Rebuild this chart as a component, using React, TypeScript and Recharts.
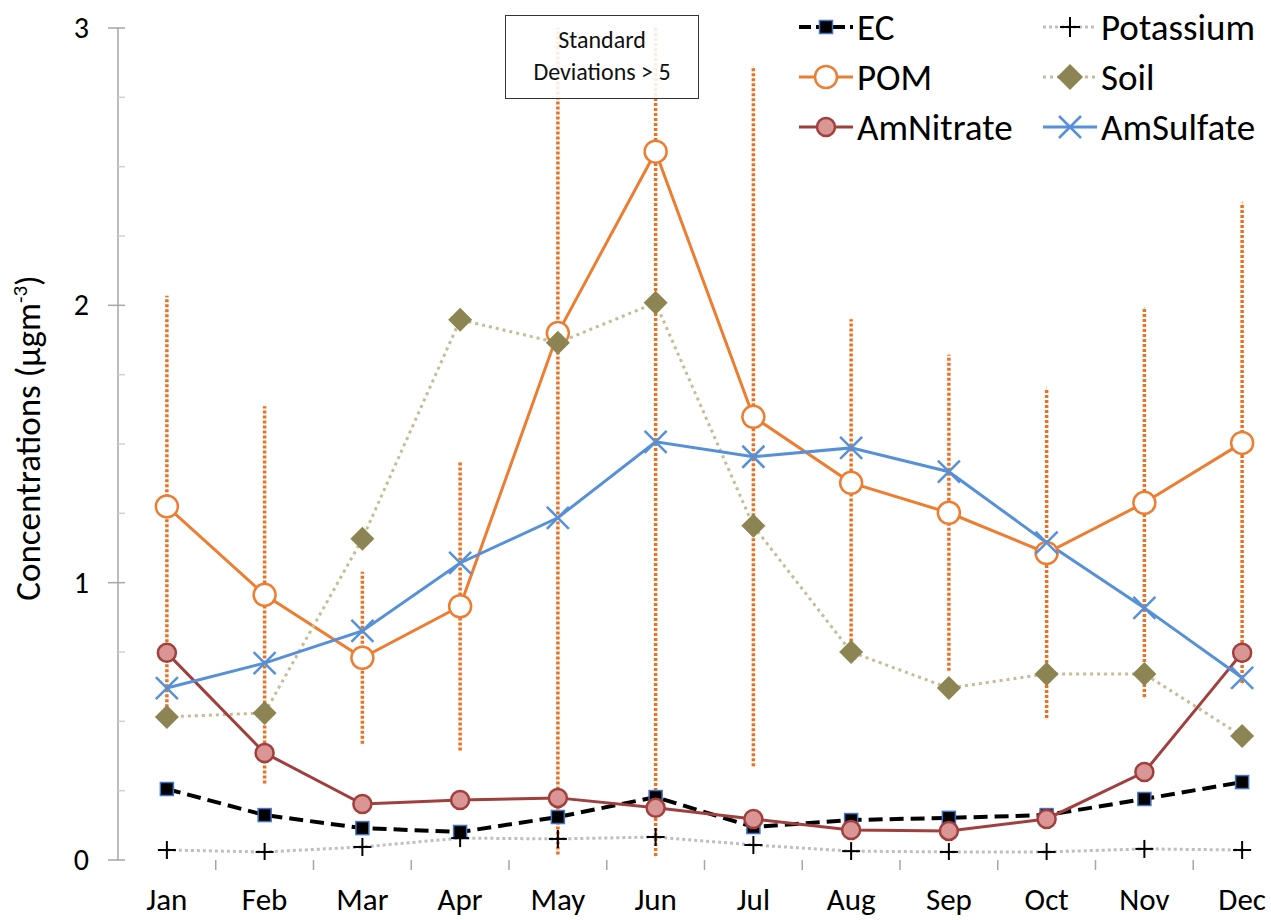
import React from 'react';
import { ComposedChart, Line, XAxis, YAxis, ErrorBar, Legend } from 'recharts';

const months = ['Jan', 'Feb', 'Mar', 'Apr', 'May', 'Jun', 'Jul', 'Aug', 'Sep', 'Oct', 'Nov', 'Dec'];
const ecValues = [0.256, 0.162, 0.115, 0.101, 0.155, 0.227, 0.119, 0.144, 0.152, 0.162, 0.22, 0.281];
const potassiumValues = [0.036, 0.029, 0.047, 0.079, 0.076, 0.083, 0.054, 0.032, 0.029, 0.029, 0.04, 0.036];
const pomValues = [1.275, 0.956, 0.729, 0.915, 1.9, 2.554, 1.598, 1.36, 1.252, 1.107, 1.288, 1.504];
const soilValues = [0.516, 0.53, 1.158, 1.948, 1.865, 2.009, 1.205, 0.75, 0.62, 0.671, 0.671, 0.447];
const amNitrateValues = [0.747, 0.386, 0.202, 0.216, 0.224, 0.188, 0.148, 0.108, 0.105, 0.148, 0.317, 0.747];
const amSulfateValues = [0.62, 0.71, 0.826, 1.071, 1.234, 1.508, 1.454, 1.486, 1.4, 1.144, 0.909, 0.657];
// POM standard deviations; May and Jun exceed 5 and are shown only within the axis range: [below, above]
const pomSdValues: (number | [number, number])[] = [0.76, 0.68, 0.31, 0.52, [1.88, 1.1], [2.54, 0.446], 1.26, 0.59, 0.57, 0.595, 0.7, 0.866];
const yTicks = [0, 0.25, 0.5, 0.75, 1, 1.25, 1.5, 1.75, 2, 2.25, 2.5, 2.75, 3];

const data = months.map((m, i) => ({
  month: m,
  EC: ecValues[i],
  Potassium: potassiumValues[i],
  POM: pomValues[i],
  Soil: soilValues[i],
  AmNitrate: amNitrateValues[i],
  AmSulfate: amSulfateValues[i],
  pomSd: pomSdValues[i],
}));

const FONT = 'Carlito, Lato, "Open Sans", sans-serif';
const CHART_W = 1300;
const CHART_H = 920;
const Y_W = 118;
const M_RIGHT = 9;
const PLOT_W = CHART_W - Y_W - M_RIGHT;
const BW = PLOT_W / months.length;

const C_EC = '#000000';
const C_EC_BORDER = '#4472C4';
const C_POT_LINE = '#BFBFBF';
const C_POM = '#ED7D31';
const C_ERR = '#EC7020';
const C_SOIL = '#8C8452';
const C_SOIL_LINE = '#C4BD97';
const C_NIT = '#A0403E';
const C_NIT_FILL = '#DA9694';
const C_SUL = '#5590D8';
const C_AXIS = '#A6A6A6';

const SquareMark = ({ cx, cy, s = 13 }: any) => (
  <rect x={cx - s / 2} y={cy - s / 2} width={s} height={s} fill="#000" stroke={C_EC_BORDER} strokeWidth={1.5} />
);
const PlusMark = ({ cx, cy, s = 18 }: any) => (
  <g stroke="#000" strokeWidth={2}>
    <line x1={cx - s / 2} x2={cx + s / 2} y1={cy} y2={cy} />
    <line x1={cx} x2={cx} y1={cy - s / 2} y2={cy + s / 2} />
  </g>
);
const PomMark = ({ cx, cy, r = 11 }: any) => (
  <circle cx={cx} cy={cy} r={r} fill="#fff" stroke={C_POM} strokeWidth={2.5} />
);
const DiamondMark = ({ cx, cy, s = 12 }: any) => (
  <polygon points={`${cx},${cy - s} ${cx + s},${cy} ${cx},${cy + s} ${cx - s},${cy}`} fill={C_SOIL} />
);
const NitMark = ({ cx, cy, r = 9 }: any) => (
  <circle cx={cx} cy={cy} r={r} fill={C_NIT_FILL} stroke={C_NIT} strokeWidth={2.5} />
);
const XMark = ({ cx, cy, s = 11 }: any) => (
  <g stroke={C_SUL} strokeWidth={2.5}>
    <line x1={cx - s} x2={cx + s} y1={cy - s} y2={cy + s} />
    <line x1={cx - s} x2={cx + s} y1={cy + s} y2={cy - s} />
  </g>
);

const dotFn = (Comp: any) => (props: any) => {
  const { cx, cy, index } = props;
  if (cx == null || cy == null) return <g key={index} />;
  return <g key={`d-${index}`}><Comp cx={cx} cy={cy} /></g>;
};

const XTick = (props: any) => {
  const { x, y, payload, index } = props;
  const bx = x - BW / 2;
  return (
    <g>
      {index > 0 && <line x1={bx} x2={bx} y1={y} y2={y + 10} stroke={C_AXIS} strokeWidth={1.5} />}
      <text x={x} y={y + 50} textAnchor="middle" fontFamily={FONT} fontSize={31} fill="#000">
        {payload.value}
      </text>
    </g>
  );
};

const Y_TM = 29;
const YTick = (props: any) => {
  const { x, y, payload } = props;
  const v = payload.value;
  const ax = x + Y_TM;
  const major = Number.isInteger(v);
  return (
    <g>
      <line x1={major ? ax - 10 : ax} x2={ax + 7} y1={y} y2={y} stroke={major ? C_AXIS : '#D0D0D0'} strokeWidth={1.5} />
      {major && (
        <text x={x} y={y + 10} textAnchor="end" fontFamily={FONT} fontSize={30} fill="#000">
          {v}
        </text>
      )}
    </g>
  );
};

const YLabel = () => (
  <text
    x={40}
    y={438}
    transform="rotate(-90, 40, 438)"
    textAnchor="middle"
    fontFamily={FONT}
    fontSize={35}
    fill="#000"
  >
    <tspan>Concentrations  (µgm</tspan>
    <tspan dy={-13} fontSize={21}>-3</tspan>
    <tspan dy={13}>)</tspan>
  </text>
);

const legendItems = [
  { name: 'EC', col: 0, row: 0 },
  { name: 'Potassium', col: 1, row: 0 },
  { name: 'POM', col: 0, row: 1 },
  { name: 'Soil', col: 1, row: 1 },
  { name: 'AmNitrate', col: 0, row: 2 },
  { name: 'AmSulfate', col: 1, row: 2 },
];

const LEG_LEFT = 790;
const LegendIcon = ({ name, x0, cy }: any) => {
  const x1 = x0 + 54;
  const mx = (x0 + x1) / 2;
  switch (name) {
    case 'EC':
      return (
        <g>
          <line x1={x0} x2={x1} y1={cy} y2={cy} stroke={C_EC} strokeWidth={4} strokeDasharray="12 5" />
          <SquareMark cx={mx} cy={cy} />
        </g>
      );
    case 'Potassium':
      return (
        <g>
          <line x1={x0} x2={x1} y1={cy} y2={cy} stroke={C_POT_LINE} strokeWidth={3} strokeDasharray="3 3" />
          <PlusMark cx={mx} cy={cy} s={20} />
        </g>
      );
    case 'POM':
      return (
        <g>
          <line x1={x0} x2={x1} y1={cy} y2={cy} stroke={C_POM} strokeWidth={3} />
          <PomMark cx={mx} cy={cy} />
        </g>
      );
    case 'Soil':
      return (
        <g>
          <line x1={x0} x2={x1} y1={cy} y2={cy} stroke={C_SOIL_LINE} strokeWidth={3} strokeDasharray="3 4" />
          <DiamondMark cx={mx} cy={cy} s={13} />
        </g>
      );
    case 'AmNitrate':
      return (
        <g>
          <line x1={x0} x2={x1} y1={cy} y2={cy} stroke={C_NIT} strokeWidth={3} />
          <NitMark cx={mx} cy={cy} />
        </g>
      );
    default:
      return (
        <g>
          <line x1={x0} x2={x1} y1={cy} y2={cy} stroke={C_SUL} strokeWidth={3} />
          <XMark cx={mx} cy={cy} s={11} />
        </g>
      );
  }
};

const renderLegend = () => (
  <svg width={480} height={160} style={{ display: 'block', overflow: 'visible' }}>
    {legendItems.map((it) => {
      const x0 = (it.col === 0 ? 799 : 1043) - LEG_LEFT;
      const cy = 27 + it.row * 50;
      return (
        <g key={it.name}>
          <LegendIcon name={it.name} x0={x0} cy={cy} />
          <text x={x0 + 58} y={cy + 13} fontFamily={FONT} fontSize={37} fill="#000">
            {it.name}
          </text>
        </g>
      );
    })}
  </svg>
);

export default function App() {
  return (
    <div style={{ position: 'absolute', left: 0, top: 0, width: 1271, height: 920, overflow: 'hidden', background: '#fff' }}>
      <ComposedChart
        width={CHART_W}
        height={CHART_H}
        data={data}
        margin={{ top: 28, right: M_RIGHT, left: 0, bottom: 0 }}
      >
        <XAxis
          dataKey="month"
          scale="band"
          axisLine={false}
          tickLine={false}
          tickSize={0}
          tickMargin={0}
          height={60}
          interval={0}
          tick={<XTick />}
        />
        <YAxis
          type="number"
          domain={[0, 3]}
          allowDataOverflow
          ticks={yTicks}
          interval={0}
          width={Y_W}
          tickLine={false}
          tickSize={0}
          tickMargin={Y_TM}
          axisLine={{ stroke: C_AXIS, strokeWidth: 1.5 }}
          tick={<YTick />}
          label={<YLabel />}
        />
        <Legend
          layout="horizontal"
          verticalAlign="middle"
          align="center"
          content={renderLegend}
          wrapperStyle={{ left: LEG_LEFT, top: 0, width: 480, height: 160 }}
        />
        <Line
          dataKey="EC"
          stroke={C_EC}
          strokeWidth={4}
          strokeDasharray="14 7"
          dot={dotFn(SquareMark)}
          activeDot={false}
          isAnimationActive={false}
        />
        <Line
          dataKey="Potassium"
          stroke={C_POT_LINE}
          strokeWidth={3}
          strokeDasharray="3 3"
          dot={dotFn(PlusMark)}
          activeDot={false}
          isAnimationActive={false}
        />
        <Line
          dataKey="POM"
          stroke={C_POM}
          strokeWidth={3}
          dot={dotFn(PomMark)}
          activeDot={false}
          isAnimationActive={false}
        >
          <ErrorBar dataKey="pomSd" direction="y" width={0} stroke={C_ERR} strokeWidth={3.5} strokeDasharray="3 2" />
        </Line>
        <Line
          dataKey="Soil"
          stroke={C_SOIL_LINE}
          strokeWidth={3}
          strokeDasharray="3 4"
          dot={dotFn(DiamondMark)}
          activeDot={false}
          isAnimationActive={false}
        />
        <Line
          dataKey="AmNitrate"
          stroke={C_NIT}
          strokeWidth={3}
          dot={dotFn(NitMark)}
          activeDot={false}
          isAnimationActive={false}
        />
        <Line
          dataKey="AmSulfate"
          stroke={C_SUL}
          strokeWidth={3}
          dot={dotFn(XMark)}
          activeDot={false}
          isAnimationActive={false}
        />
      </ComposedChart>
      <div
        style={{
          position: 'absolute',
          left: 505,
          top: 15,
          width: 194,
          height: 84,
          border: '1.5px solid #333',
          background: 'rgba(255,255,255,0.88)',
          fontFamily: FONT,
          fontSize: 24,
          lineHeight: '32px',
          textAlign: 'center',
          color: '#111',
          paddingTop: 8,
          boxSizing: 'border-box',
        }}
      >
        Standard
        <br />
        Deviations &gt; 5
      </div>
    </div>
  );
}
